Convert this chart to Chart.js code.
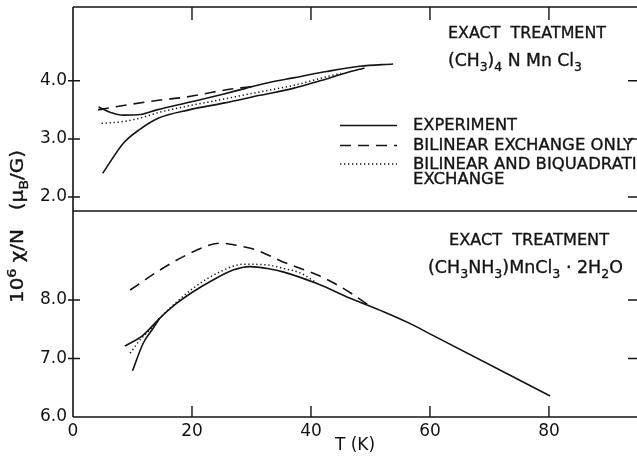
<!DOCTYPE html>
<html>
<head>
<meta charset="utf-8">
<script src="https://cdn.jsdelivr.net/npm/chart.js@4.4.1/dist/chart.umd.min.js"></script>
<style>
  html, body { margin: 0; padding: 0; background: #fff; }
  canvas { display: block; }
</style>
</head>
<body>
<canvas id="myChart" width="637" height="456"></canvas>
<script>
// tick positions
var xTicks = [0, 20, 40, 60, 80];
var topTicks = [2.0, 3.0, 4.0];
var botTicks = [6.0, 7.0, 8.0];

// top panel, (CH3)4NMnCl3  (T in K, value in muB/G)
var topExpAT = [4.3, 6.2, 8.5, 11.3, 14.1, 19.5, 25.2, 29.0, 33.0, 37.0, 42.6, 48.2, 53.8];
var topExpAV = [3.55, 3.46, 3.41, 3.42, 3.50, 3.63, 3.77, 3.87, 3.97, 4.05, 4.16, 4.25, 4.29];
var topExpBT = [5.0, 8.5, 11.3, 14.4, 19.5, 25.5, 31.4, 37.0, 41.5, 46.0, 49.0];
var topExpBV = [2.41, 2.93, 3.17, 3.36, 3.50, 3.62, 3.75, 3.87, 4.00, 4.14, 4.22];
var topDashT = [4.2, 10.0, 15.5, 18.3, 21.2, 24.3, 27.5, 30.0];
var topDashV = [3.50, 3.60, 3.68, 3.71, 3.76, 3.82, 3.87, 3.90];
var topDotT = [4.8, 8.5, 11.3, 14.6, 19.5, 25.5, 31.4, 37.0, 41.5, 45.0];
var topDotV = [3.27, 3.30, 3.36, 3.46, 3.57, 3.69, 3.81, 3.92, 4.04, 4.13];

// bottom panel, (CH3NH3)MnCl3.2H2O  (value = 10^6 chi/N)
var botExpAT = [8.7, 11.8, 14.6, 17.4, 20.2, 23.0, 26.9, 29.7, 33.1, 35.3, 41.0, 46.6, 52.2, 56.6, 60.0, 80.2];
var botExpAV = [7.21, 7.40, 7.69, 7.94, 8.14, 8.31, 8.51, 8.57, 8.53, 8.48, 8.28, 8.03, 7.80, 7.60, 7.42, 6.36];
var botExpBT = [10.0, 11.8, 13.5, 14.6];
var botExpBV = [6.79, 7.26, 7.52, 7.69];
var botDashT = [9.6, 14.6, 19.1, 23.0, 24.7, 28.6, 30.9, 35.3, 41.0, 44.0, 46.8, 50.0];
var botDashV = [8.17, 8.51, 8.77, 8.94, 8.97, 8.91, 8.85, 8.65, 8.43, 8.28, 8.11, 7.89];
var botDotT = [9.6, 11.3, 12.9, 14.6, 20.2, 24.7, 28.6, 32.6, 35.3, 38.2, 41.0];
var botDotV = [7.09, 7.32, 7.49, 7.69, 8.20, 8.48, 8.61, 8.60, 8.54, 8.46, 8.29];

var INK = '#141414';
var FONT = "'DejaVu Sans', sans-serif";
var SOLID = [];
var DASH = [11, 7];
var DOT = [1.3, 2.7];

function pts(T, V) {
    return T.map(function (t, i) { return { x: t, y: V[i] }; });
}

function line(label, T, V, axis, dash) {
    return {
        label: label,
        data: pts(T, V),
        yAxisID: axis,
        borderColor: INK,
        borderWidth: dash === DOT ? 1.5 : 1.6,
        borderDash: dash,
        pointRadius: 0,
        cubicInterpolationMode: 'monotone',
        fill: false
    };
}

// draw text made of segments [text, 0 normal / 1 sub / 2 sup], squeezed to a width
function rich(ctx, segs, x, y, w, size) {
    var total = 0;
    segs.forEach(function (s) {
        ctx.font = (s[1] ? size * 0.72 : size) + 'px ' + FONT;
        total += ctx.measureText(s[0]).width;
    });
    var sx = w ? w / total : 1;
    ctx.save();
    ctx.translate(x, y);
    ctx.scale(sx, 1);
    ctx.textBaseline = 'middle';
    ctx.textAlign = 'left';
    ctx.fillStyle = INK;
    ctx.strokeStyle = INK;
    ctx.lineWidth = 0.35;
    var cx = 0;
    segs.forEach(function (s) {
        ctx.font = (s[1] ? size * 0.72 : size) + 'px ' + FONT;
        var dy = s[1] === 1 ? size * 0.32 : (s[1] === 2 ? -size * 0.38 : 0);
        ctx.fillText(s[0], cx, dy);
        ctx.strokeText(s[0], cx, dy);
        cx += ctx.measureText(s[0]).width;
    });
    ctx.restore();
    return sx;
}

function noPad(s) {
    s.paddingTop = 0;
    s.paddingBottom = 0;
}

var framePlugin = {
    id: 'frame',
    afterDraw: function (chart) {
        var ctx = chart.ctx;
        var a = chart.chartArea;
        var xs = chart.scales.x, yt = chart.scales.yTop, yb = chart.scales.yBot;
        var mid = yt.bottom;
        ctx.save();
        ctx.strokeStyle = INK;
        ctx.lineWidth = 1.6;
        ctx.setLineDash([]);
        ctx.beginPath();
        ctx.moveTo(a.left, a.top); ctx.lineTo(a.right, a.top);
        ctx.moveTo(a.left, mid); ctx.lineTo(a.right, mid);
        ctx.moveTo(a.left, a.bottom); ctx.lineTo(a.right, a.bottom);
        ctx.moveTo(a.left, a.top); ctx.lineTo(a.left, a.bottom);
        ctx.stroke();

        ctx.lineWidth = 1.4;
        ctx.beginPath();
        xTicks.forEach(function (v) {
            if (v === 0) return;
            var px = xs.getPixelForValue(v);
            ctx.moveTo(px, a.top); ctx.lineTo(px, a.top + 13);
            ctx.moveTo(px, a.bottom); ctx.lineTo(px, a.bottom - 11);
        });
        topTicks.forEach(function (v) {
            var py = yt.getPixelForValue(v);
            ctx.moveTo(a.left - 5, py); ctx.lineTo(a.left + 7, py);
            ctx.moveTo(a.right, py); ctx.lineTo(a.right - 9, py);
        });
        botTicks.forEach(function (v) {
            if (v === 6) return;
            var py = yb.getPixelForValue(v);
            ctx.moveTo(a.left - 5, py); ctx.lineTo(a.left + 7, py);
            ctx.moveTo(a.right, py); ctx.lineTo(a.right - 9, py);
        });
        ctx.stroke();

        // legend
        var rows = [[SOLID, 125.5], [DASH, 145.5], [DOT, 164]];
        rows.forEach(function (r) {
            ctx.setLineDash(r[0]);
            ctx.lineWidth = r[0] === DOT ? 1.5 : 1.6;
            ctx.beginPath();
            ctx.moveTo(340, r[1]); ctx.lineTo(397, r[1]);
            ctx.stroke();
        });
        ctx.setLineDash([]);

        var sx = rich(ctx, [['BILINEAR EXCHANGE ONLY', 0]], 413, 146, 220, 16);
        rich(ctx, [['EXPERIMENT', 0]], 413, 126, 104, 16);
        ctx.save();
        ctx.font = '16px ' + FONT;
        var w1 = ctx.measureText('BILINEAR AND BIQUADRATIC').width * sx;
        var w2 = ctx.measureText('EXCHANGE').width * sx;
        ctx.restore();
        rich(ctx, [['BILINEAR AND BIQUADRATIC', 0]], 413, 165, w1, 16);
        rich(ctx, [['EXCHANGE', 0]], 413, 180, w2, 16);

        // panel labels
        rich(ctx, [['EXACT  TREATMENT', 0]], 448, 34, 158, 16);
        rich(ctx, [['(CH', 0], ['3', 1], [')', 0], ['4', 1], [' N Mn Cl', 0], ['3', 1]], 448, 62, 134, 17);
        rich(ctx, [['EXACT  TREATMENT', 0]], 449, 241, 160, 16);
        rich(ctx, [['(CH', 0], ['3', 1], ['NH', 0], ['3', 1], [')MnCl', 0], ['3', 1], [' \u00b7 2H', 0], ['2', 1], ['O', 0]], 428, 269, 195, 17);

        // y axis title
        ctx.save();
        ctx.translate(19, 303);
        ctx.rotate(-Math.PI / 2);
        rich(ctx, [['10', 0], ['6', 2], [' \u03c7/N   (\u03bc', 0], ['B', 1], ['/G)', 0]], 0, 0, 153, 17);
        ctx.restore();
        ctx.restore();
    }
};

var ctx = document.getElementById('myChart').getContext('2d');
var myChart = new Chart(ctx, {
    type: 'line',
    data: {
        datasets: [
            line('Experiment', topExpAT, topExpAV, 'yTop', SOLID),
            line('Experiment', topExpBT, topExpBV, 'yTop', SOLID),
            line('Bilinear exchange only', topDashT, topDashV, 'yTop', DASH),
            line('Bilinear and biquadratic exchange', topDotT, topDotV, 'yTop', DOT),
            line('Experiment', botExpAT, botExpAV, 'yBot', SOLID),
            line('Experiment', botExpBT, botExpBV, 'yBot', SOLID),
            line('Bilinear exchange only', botDashT, botDashV, 'yBot', DASH),
            line('Bilinear and biquadratic exchange', botDotT, botDotV, 'yBot', DOT)
        ]
    },
    options: {
        responsive: false,
        animation: false,
        layout: { padding: { top: 7, left: 0, right: 0, bottom: 0 } },
        plugins: { legend: { display: false }, tooltip: { enabled: false } },
        scales: {
            x: {
                type: 'linear',
                min: 0,
                max: 94.8,
                afterBuildTicks: function (s) { s.ticks = xTicks.map(function (v) { return { value: v }; }); },
                afterFit: function (s) { s.height = 39; s.paddingLeft = 0; s.paddingRight = 0; },
                grid: { display: false, drawTicks: false },
                border: { display: false },
                ticks: { color: INK, font: { family: FONT, size: 17 }, padding: 4, maxRotation: 0 },
                title: { display: true, text: 'T (K)', color: INK, font: { family: FONT, size: 17 }, padding: 0 }
            },
            yBot: {
                type: 'linear',
                position: 'left',
                stack: 'panels',
                stackWeight: 206,
                min: 6.0,
                max: 9.52,
                afterBuildTicks: function (s) { s.ticks = botTicks.map(function (v) { return { value: v }; }); },
                afterFit: function (s) { s.width = 73; noPad(s); },
                grid: { display: false, drawTicks: false },
                border: { display: false },
                ticks: { color: INK, font: { family: FONT, size: 17 }, padding: 6,
                    callback: function (v) { return v.toFixed(1); } }
            },
            yTop: {
                type: 'linear',
                position: 'left',
                stack: 'panels',
                stackWeight: 204,
                min: 1.76,
                max: 5.27,
                afterBuildTicks: function (s) { s.ticks = topTicks.map(function (v) { return { value: v }; }); },
                afterFit: function (s) { s.width = 73; noPad(s); },
                grid: { display: false, drawTicks: false },
                border: { display: false },
                ticks: { color: INK, font: { family: FONT, size: 17 }, padding: 6,
                    callback: function (v) { return v.toFixed(1); } }
            }
        }
    },
    plugins: [framePlugin]
});
</script>
</body>
</html>
